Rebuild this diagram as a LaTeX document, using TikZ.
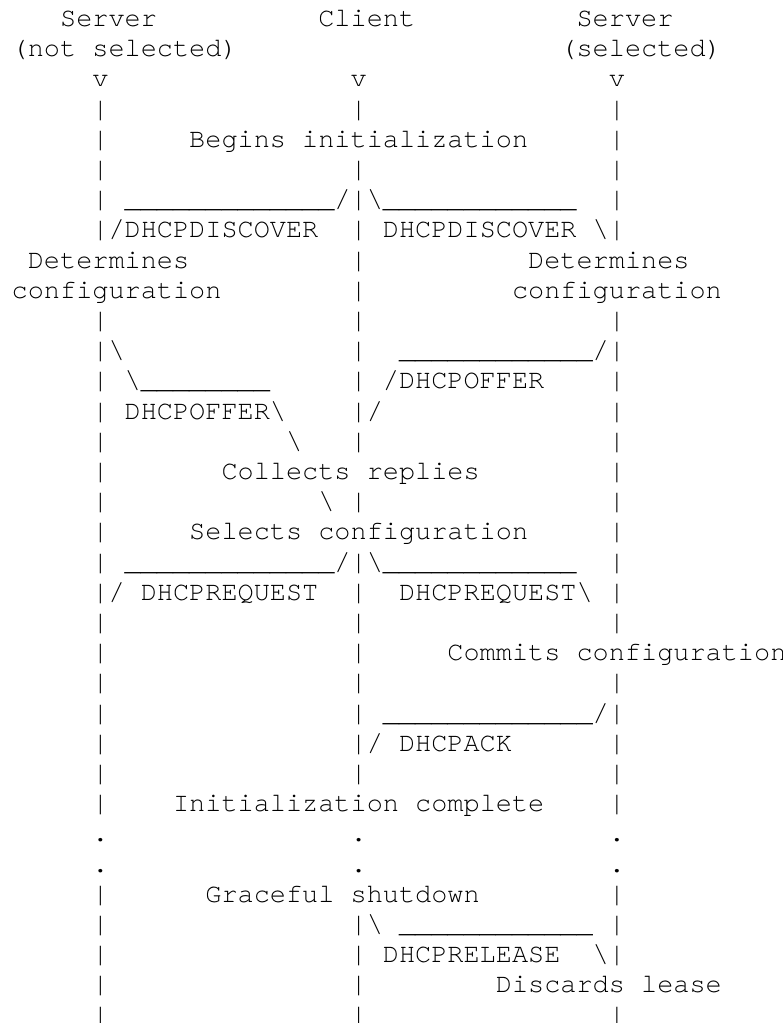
\documentclass[tikz,border=0pt]{standalone}
\usepackage{fontspec}
\setmonofont[Ligatures={NoCommon}]{TeX Gyre Cursor}
\ExplSyntaxOn
\cs_new:Npn \asrep #1#2 { \prg_replicate:nn {#1} {#2} }
\ExplSyntaxOff
\newcommand\spc[1]{\asrep{#1}{~}}
\newcommand\usc[1]{\asrep{#1}{\_}}
\newcommand\bsl{\textbackslash}
\tikzset{asc/.style={anchor=base west,inner sep=0pt,outer sep=0pt,
  font=\ttfamily\fontsize{26.9}{30}\selectfont}}
\newcommand\ascline[2]{\node[asc] (l#1) at (11.7pt,{-26.5pt-30.2pt*(#1-1)}) {#2};}
\begin{document}
\begin{tikzpicture}
\path[fill=white] (0,0) rectangle (783pt,-1023pt);
\useasboundingbox (0,0) rectangle (783pt,-1023pt);
\ascline{1}{\spc{3}Server\spc{10}Client\spc{10}Server}
\ascline{2}{(not~selected)\spc{20}(selected)}
\ascline{3}{\spc{5}v\spc{15}v\spc{15}v}
\ascline{4}{\spc{5}|\spc{15}|\spc{15}|}
\ascline{5}{\spc{5}|\spc{5}Begins~initialization\spc{5}|}
\ascline{6}{\spc{5}|\spc{15}|\spc{15}|}
\ascline{7}{\spc{5}|~\usc{13}/|\bsl\usc{12}\spc{2}|}
\ascline{8}{\spc{5}|/DHCPDISCOVER\spc{2}|~DHCPDISCOVER~\bsl|}
\ascline{9}{~Determines\spc{10}|\spc{10}Determines}
\ascline{10}{configuration\spc{8}|\spc{9}configuration}
\ascline{11}{\spc{5}|\spc{15}|\spc{15}|}
\ascline{12}{\spc{5}|\bsl\spc{14}|\spc{2}\usc{12}/|}
\ascline{13}{\spc{5}|~\bsl\usc{8}\spc{5}|~/DHCPOFFER\spc{4}|}
\ascline{14}{\spc{5}|~DHCPOFFER\bsl\spc{4}|/\spc{14}|}
\ascline{15}{\spc{5}|\spc{11}\bsl\spc{3}|\spc{15}|}
\ascline{16}{\spc{5}|\spc{7}Collects~replies\spc{8}|}
\ascline{17}{\spc{5}|\spc{13}\bsl~|\spc{15}|}
\ascline{18}{\spc{5}|\spc{5}Selects~configuration\spc{5}|}
\ascline{19}{\spc{5}|~\usc{13}/|\bsl\usc{12}\spc{2}|}
\ascline{20}{\spc{5}|/~DHCPREQUEST\spc{2}|\spc{2}DHCPREQUEST\bsl~|}
\ascline{21}{\spc{5}|\spc{15}|\spc{15}|}
\ascline{22}{\spc{5}|\spc{15}|\spc{5}Commits~configuration}
\ascline{23}{\spc{5}|\spc{15}|\spc{15}|}
\ascline{24}{\spc{5}|\spc{15}|~\usc{13}/|}
\ascline{25}{\spc{5}|\spc{15}|/~DHCPACK\spc{6}|}
\ascline{26}{\spc{5}|\spc{15}|\spc{15}|}
\ascline{27}{\spc{5}|\spc{4}Initialization~complete\spc{4}|}
\ascline{28}{\spc{5}.\spc{15}.\spc{15}.}
\ascline{29}{\spc{5}.\spc{15}.\spc{15}.}
\ascline{30}{\spc{5}|\spc{6}Graceful~shutdown\spc{8}|}
\ascline{31}{\spc{5}|\spc{15}|\bsl~\usc{12}~|}
\ascline{32}{\spc{5}|\spc{15}|~DHCPRELEASE\spc{2}\bsl|}
\ascline{33}{\spc{5}|\spc{15}|\spc{8}Discards~lease}
\ascline{34}{\spc{5}|\spc{15}|\spc{15}|}
\end{tikzpicture}
\end{document}
